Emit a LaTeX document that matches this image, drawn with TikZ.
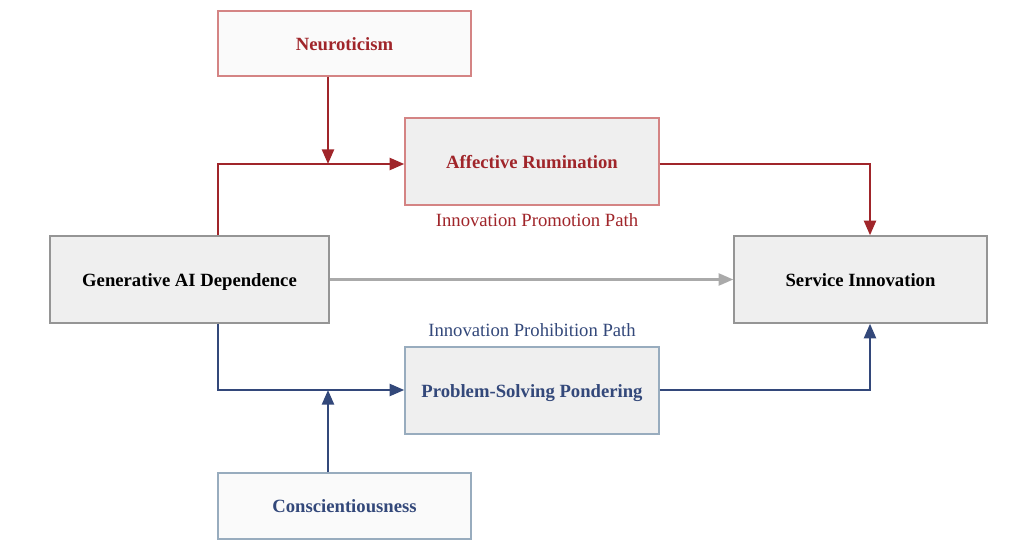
\documentclass[tikz,border=0pt]{standalone}
\usepackage{fontspec}
\setmainfont{Liberation Serif}
\usetikzlibrary{arrows.meta,shadows}

\definecolor{darkred}{HTML}{A0252A}
\definecolor{darkblue}{HTML}{33487A}
\definecolor{redline}{HTML}{D48484}
\definecolor{blueline}{HTML}{98ACBE}
\definecolor{grayline}{HTML}{959595}
\definecolor{grayarrow}{HTML}{AAAAAA}
\definecolor{boxfill}{HTML}{EFEFEF}
\definecolor{palefill}{HTML}{FAFAFA}

\begin{document}
\begin{tikzpicture}[x=0.75pt,y=-0.75pt,
		box/.style={draw, line width=1.1pt, align=center, font=\fontsize{14}{16}\selectfont\bfseries,
			text height=1em, text depth=0pt,
			drop shadow={shadow xshift=1pt, shadow yshift=-1pt, opacity=0.25}},
		link/.style={line width=1.8pt, -{Triangle[length=11pt,width=9pt]}},
		pathlabel/.style={font=\fontsize{14}{16}\selectfont}]
		\useasboundingbox[fill=white] (0,0) rectangle (1024,556);
		\node[box, draw=redline, fill=palefill, text=darkred, minimum width=189.75pt, minimum height=48.75pt] (neuro) at (344.5,43.5) {Neuroticism};
		\node[box, draw=redline, fill=boxfill, text=darkred, minimum width=190.5pt, minimum height=65.25pt] (rumination) at (532,161.5) {Affective Rumination};
		\node[box, draw=grayline, fill=boxfill, text=black, minimum width=209.25pt, minimum height=65.25pt] (genai) at (189.5,279.5) {Generative AI Dependence};
		\node[box, draw=grayline, fill=boxfill, text=black, minimum width=189.75pt, minimum height=65.25pt] (service) at (860.5,279.5) {Service Innovation};
		\node[box, draw=blueline, fill=boxfill, text=darkblue, minimum width=190.5pt, minimum height=65.25pt] (pondering) at (532,390.5) {Problem-Solving Pondering};
		\node[box, draw=blueline, fill=palefill, text=darkblue, minimum width=189.75pt, minimum height=49.5pt] (consc) at (344.5,506) {Conscientiousness};
		\node[pathlabel, text=darkred] (promo) at (537,220) {Innovation Promotion Path};
		\node[pathlabel, text=darkblue] (prohib) at (532,330) {Innovation Prohibition Path};
		% junctions on the paths
		\coordinate (upjoin) at (328,164);
		\coordinate (lowjoin) at (328,390);
		\draw[link, darkred] (genai.north -| 218,0) |- (rumination.west |- upjoin);
		\draw[link, darkred] (neuro.south -| upjoin) -- (upjoin);
		\draw[link, darkred] (rumination.east |- upjoin) -| (service.north -| 870,0);
		\draw[link, grayarrow] (genai) -- (service);
		\draw[link, darkblue] (genai.south -| 218,0) |- (pondering.west |- lowjoin);
		\draw[link, darkblue] (consc.north -| lowjoin) -- (lowjoin);
		\draw[link, darkblue] (pondering.east |- lowjoin) -| (service.south -| 870,0);
	\end{tikzpicture}
\end{document}
